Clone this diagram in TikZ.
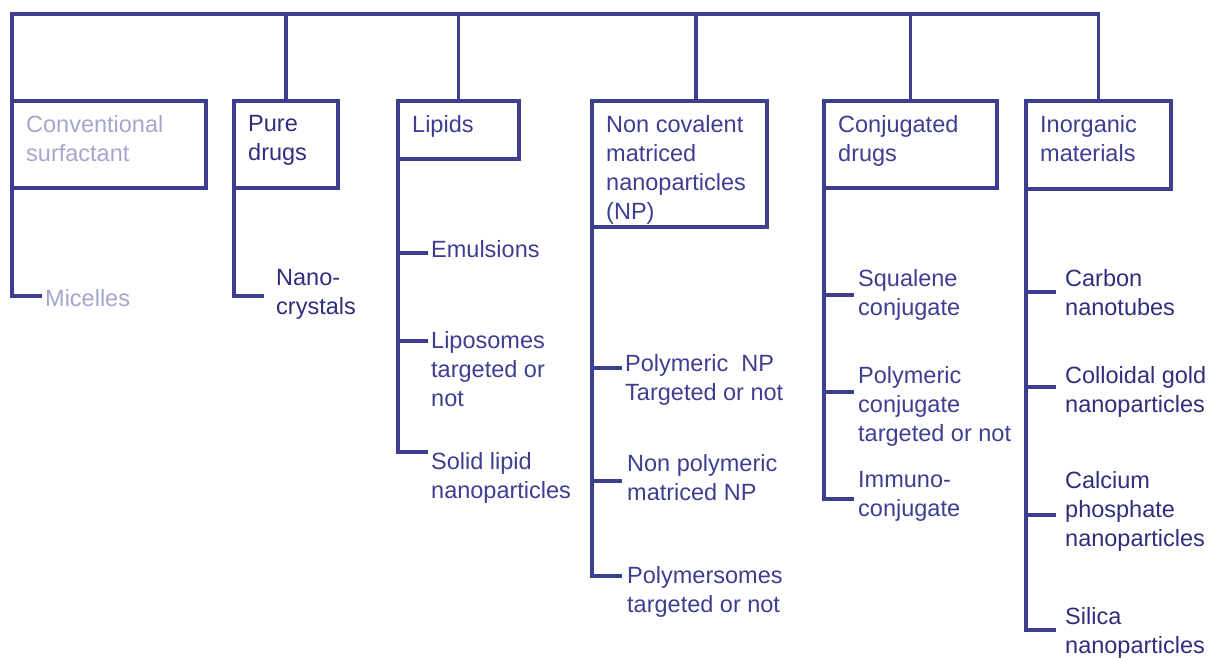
\documentclass[tikz,border=0pt]{standalone}
\usepackage{fontspec}
\setmainfont{Liberation Sans}
\definecolor{navy}{RGB}{62,62,145}
\definecolor{deepNavy}{RGB}{46,46,124}
\definecolor{paleNavy}{RGB}{165,165,205}
\begin{document}
\begin{tikzpicture}
[x=1pt,y=-1pt,
  boxDecorate/.style={draw=navy,line width=3.2pt,inner sep=0pt,outer sep=0pt,anchor=north west},%
  labelDecorate/.style={text=navy,font=\fontsize{23.5}{29}\selectfont,align=left,inner sep=0pt,anchor=north west},%
  lineDecorate/.style={draw=navy,line width=3.2pt,line cap=rect}]
\useasboundingbox (0,0) rectangle (1209,657);
%% category boxes
\foreach \nodename/\x/\w/\h/\tint/\caption in {
  conv/12/194/87/paleNavy/Conventional\\surfactant,
  pure/234/104/87/deepNavy/Pure\\drugs,
  lipids/398/121/58/navy/Lipids,
  noncov/592/175/126/navy/Non covalent\\matriced\\nanoparticles\\(NP),
  conj/824/173/87/navy/Conjugated\\drugs,
  inorg/1026/145/88/navy/Inorganic\\materials}
{
  \node (\nodename) at (\x,101) [boxDecorate,minimum width=\w pt,minimum height=\h pt] {};
  \node (\nodename-t) at ([shift={(14pt,-14.4pt)}]\nodename.north west) [labelDecorate,text=\tint] {\caption};
}
%% top rail
\coordinate (root) at (12,14);
\draw[lineDecorate] (conv.north west) -- (root) -| (inorg.north);
\foreach \nodename in {pure,lipids,conj}
  \draw[lineDecorate] (\nodename.north) -- (\nodename.north |- root);
\draw[lineDecorate] ([xshift=16.5pt]noncov.north) -- ([xshift=16.5pt]noncov.north |- root);
%% leaves and their branches
\foreach \nodename/\up/\x/\y/\by/\tint/\caption in {
  micelles/conv/45/298/296/paleNavy/Micelles,
  nanocryst/pure/276/278/296/deepNavy/Nano-\\crystals,
  emuls/lipids/431/249/253/navy/Emulsions,
  lipos/lipids/431/340/341/navy/Liposomes\\targeted or\\not,
  sln/lipids/431/461/452/navy/Solid lipid\\nanoparticles,
  polynp/noncov/625/363/368/navy/Polymeric\ \ NP\\Targeted or not,
  nonpoly/noncov/627/463/481/navy/Non polymeric\\matriced NP,
  polysome/noncov/627/575/576/navy/Polymersomes\\targeted or not,
  squal/conj/858/278/295/navy/Squalene\\conjugate,
  polyconj/conj/858/375/392/navy/Polymeric\\conjugate\\targeted or not,
  immuno/conj/858/480/499/navy/Immuno-\\conjugate,
  carbon/inorg/1065/278/292/deepNavy/Carbon\\nanotubes,
  gold/inorg/1065/375/387/deepNavy/Colloidal gold\\nanoparticles,
  calcium/inorg/1065/480/515/deepNavy/Calcium\\phosphate\\nanoparticles,
  silica/inorg/1065/616/630/deepNavy/Silica\\nanoparticles}
{
  \node (\nodename) at (\x,\y-8.6) [labelDecorate,text=\tint] {\caption};
  \coordinate (\nodename-b) at ([xshift=28pt]\up.south west |- 0,\by);
  \draw[lineDecorate] (\up.south west) |- (\nodename-b);
}
\end{tikzpicture}
\end{document}
